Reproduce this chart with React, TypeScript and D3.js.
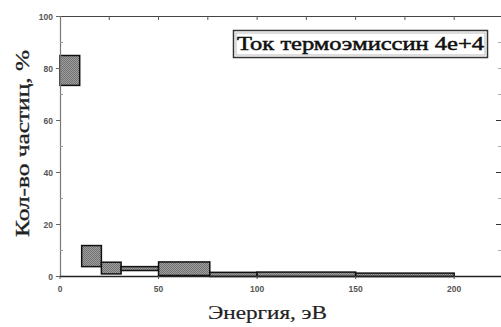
import React from "react";
import * as d3 from "d3";

const binStart = [0, 11, 21, 31, 50, 76, 100, 150];
const binEnd = [10, 21, 31, 50, 76, 100, 150, 200];
const lowValues = [73.5, 3.8, 1.0, 2.3, 0.4, 0, 0, 0];
const highValues = [85, 11.9, 5.5, 3.8, 5.6, 1.6, 1.7, 1.3];
const yTicks = [0, 20, 40, 60, 80, 100];
const yMinor = [10, 30, 50, 70, 90];
const xTicks = [0, 50, 100, 150, 200];
const xTopTicks = [25, 50, 75, 100, 125, 150, 175, 200];
const legendText = "Ток термоэмиссин 4e+4";
const xTitle = "Энергия, эВ";
const yTitle = "Кол-во частиц, %";

export default function App() {
  const W = 501, H = 327;
  const x = d3.scaleLinear().domain([0, 224]).range([60, 501.5]);
  const y = d3.scaleLinear().domain([0, 100]).range([276.5, 16.5]);
  const bars = binStart.map((s, i) => ({ s, e: binEnd[i], lo: lowValues[i], hi: highValues[i] }));
  const tickFont = "Arial, 'Liberation Sans', sans-serif";
  const serif = "'Liberation Serif', 'Times New Roman', serif";
  return (
    <svg width={W} height={H} style={{ position: "fixed", left: 0, top: 0, background: "#fff" }}>
      <defs>
        <pattern id="chk" width="2" height="2" patternUnits="userSpaceOnUse">
          <rect width="2" height="2" fill="#a0a0a0" />
          <rect width="1" height="1" fill="#707070" />
          <rect x="1" y="1" width="1" height="1" fill="#707070" />
        </pattern>
      </defs>
      <rect width={W} height={H} fill="#fff" />
      {bars.map((b, i) => (
        <rect key={i} x={x(b.s)} y={y(b.hi)} width={x(b.e) - x(b.s)} height={Math.max(1, y(b.lo) - y(b.hi))}
          fill="url(#chk)" stroke="#111" strokeWidth={1.5} />
      ))}
      <line x1={60} y1={16.5} x2={501} y2={16.5} stroke="#444" strokeWidth={1.2} />
      <line x1={60.5} y1={16} x2={60.5} y2={277} stroke="#777" strokeWidth={1.2} />
      <line x1={60} y1={276.5} x2={501} y2={276.5} stroke="#222" strokeWidth={1.5} />
      {yTicks.map((t) => (
        <line key={"yl" + t} x1={56} x2={60} y1={y(t)} y2={y(t)} stroke="#666" strokeWidth={1} />
      ))}
      {yMinor.map((t) => (
        <line key={"ym" + t} x1={60} x2={63} y1={y(t)} y2={y(t)} stroke="#999" strokeWidth={1} />
      ))}
      {[20, 40, 60].map((t) => (
        <line key={"yr" + t} x1={496} x2={501} y1={y(t)} y2={y(t)} stroke="#333" strokeWidth={1} />
      ))}
      {[10, 30, 50, 70, 80, 90].map((t) => (
        <line key={"yrm" + t} x1={498} x2={501} y1={y(t)} y2={y(t)} stroke="#aaa" strokeWidth={1} />
      ))}
      {xTopTicks.map((t) => (
        <line key={"xt" + t} x1={x(t)} x2={x(t)} y1={16} y2={20} stroke="#555" strokeWidth={1} />
      ))}
      {xTicks.map((t) => (
        <line key={"xb" + t} x1={x(t)} x2={x(t)} y1={276} y2={279} stroke="#555" strokeWidth={1} />
      ))}
      {yTicks.map((t) => (
        <text key={"yt" + t} x={53} y={y(t) + 3} textAnchor="end" fontFamily={tickFont} fontSize={8.5}
          fontWeight="bold" fill="#555">{t}</text>
      ))}
      {xTicks.map((t) => (
        <text key={"xl" + t} x={x(t)} y={292} textAnchor="middle" fontFamily={tickFont} fontSize={8.5}
          fontWeight="bold" fill="#555">{t}</text>
      ))}
      <text x={208} y={319} textLength={119} lengthAdjust="spacingAndGlyphs" fontFamily={serif}
        fontSize={18} fill="#222" stroke="#222" strokeWidth={0.2}>{xTitle}</text>
      <text transform="translate(29,237) rotate(-90)" textLength={187} lengthAdjust="spacingAndGlyphs"
        fontFamily={serif} fontSize={19} fill="#222" stroke="#222" strokeWidth={0.3}>{yTitle}</text>
      <rect x={233.5} y={30.5} width={254} height={27} fill="#fff" stroke="#333" strokeWidth={1.5} />
      <rect x={236} y={33} width={249} height={22} fill="none" stroke="#bbb" strokeWidth={1} />
      <text x={237} y={50} textLength={247} lengthAdjust="spacingAndGlyphs" fontFamily={serif}
        fontSize={19} fill="#111" stroke="#111" strokeWidth={0.5}>{legendText}</text>
    </svg>
  );
}
